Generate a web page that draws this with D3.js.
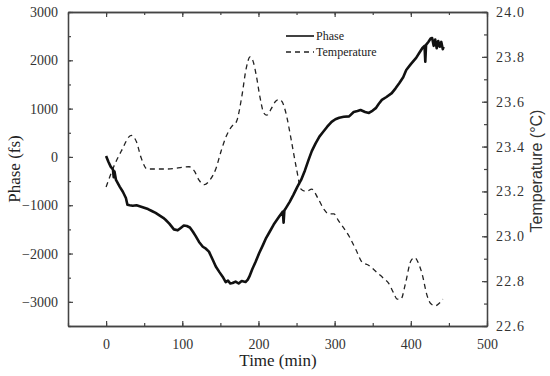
<!DOCTYPE html>
<html><head><meta charset="utf-8">
<script src="https://cdn.jsdelivr.net/npm/d3@7"></script>
<style>body{margin:0;background:#fff}svg{display:block}</style>
</head><body>
<svg id="c" width="550" height="376"></svg>
<script>
const phaseTime = [0,3,6,9,10,11,13,18,22,26,28,31,35,40,44,48,55,60,65,70,75,78,83,89,94,98,102,106,110,114,118,122,127,131,135,140,144,149,153,157,160,163,166,170,174,178,183,186,188,192,196,201,206,210,214,220,227,232,233,234,236,241,246,251,256,261,266,270,275,280,284,290,296,301,306,312,319,325,330,334,340,345,350,354,358,362,368,375,380,385,390,394,400,407,411,415,418,419,420,423,426,428,430,432,434,436,438,440,442,443];
const phaseValue = [20,-100,-200,-260,-420,-300,-476,-620,-720,-850,-990,-1000,-1010,-1000,-1020,-1040,-1080,-1120,-1160,-1210,-1260,-1300,-1380,-1500,-1520,-1470,-1420,-1430,-1460,-1550,-1650,-1760,-1860,-1900,-1960,-2130,-2270,-2390,-2480,-2590,-2560,-2620,-2610,-2580,-2620,-2570,-2590,-2540,-2480,-2320,-2180,-1990,-1820,-1680,-1570,-1400,-1240,-1130,-1360,-1110,-1060,-930,-780,-620,-476,-280,-50,120,280,420,500,620,725,780,810,830,840,930,950,970,930,910,960,1010,1100,1180,1240,1320,1420,1530,1650,1800,1920,2050,2150,2250,2300,1970,2320,2380,2450,2460,2300,2430,2250,2400,2280,2380,2230,2280];

const tempTime = [0,10,20,33,40,46,54,80,109,116,122,129,136,144,151,157,165,171,178,184,189,193,197,202,207,211,217,222,227,231,236,243,250,256,263,270,278,286,292,299,305,319,328,336,345,355,365,371,377,382,387,393,400,405,410,415,421,426,432,437,442];
const tempValue = [23.22,23.31,23.38,23.45,23.42,23.35,23.30,23.30,23.31,23.29,23.25,23.23,23.25,23.30,23.38,23.44,23.49,23.51,23.62,23.75,23.80,23.78,23.72,23.62,23.55,23.54,23.57,23.60,23.61,23.60,23.55,23.43,23.30,23.21,23.20,23.21,23.17,23.12,23.10,23.10,23.07,23.00,22.94,22.885,22.87,22.84,22.81,22.79,22.75,22.72,22.72,22.79,22.89,22.905,22.88,22.83,22.74,22.70,22.69,22.70,22.72];

const xTicks = [0,100,200,300,400,500];
const yTicks = [-3000,-2000,-1000,0,1000,2000,3000];
const y2Ticks = [22.6,22.8,23.0,23.2,23.4,23.6,23.8,24.0];
const legendLabels = ["Phase","Temperature"];

const svg = d3.select("#c");
const L=68, R=487, T=12, B=326;
const x = d3.scaleLinear().domain([-50,500]).range([L,R]);
const y = d3.scaleLinear().domain([-3500,3000]).range([B,T]);
const y2 = d3.scaleLinear().domain([22.6,24.0]).range([B,T]);
const axisColor="#444";
const serif="'Liberation Serif','Times New Roman',serif";

function styleAxis(g){
  g.select(".domain").attr("stroke",axisColor).attr("stroke-width",1.3);
  g.selectAll(".tick line").attr("stroke",axisColor).attr("stroke-width",1.2);
  g.selectAll(".tick text").attr("fill","#333").attr("font-family",serif).attr("font-size",14);
}
const xMinor = d3.range(-50,501,50);
// bottom
svg.append("g").attr("transform",`translate(0,${B})`)
  .call(d3.axisBottom(x).tickValues(xMinor).tickSize(-3).tickFormat("").tickSizeOuter(0)).call(styleAxis);
svg.append("g").attr("transform",`translate(0,${B})`)
  .call(d3.axisBottom(x).tickValues(xTicks).tickSize(-5).tickPadding(13).tickSizeOuter(0)).call(styleAxis);
// top
svg.append("g").attr("transform",`translate(0,${T})`)
  .call(d3.axisTop(x).tickValues(xMinor).tickSize(-3).tickFormat("").tickSizeOuter(0)).call(styleAxis);
svg.append("g").attr("transform",`translate(0,${T})`)
  .call(d3.axisTop(x).tickValues(xTicks).tickSize(-5).tickFormat("").tickSizeOuter(0)).call(styleAxis);
// left
svg.append("g").attr("transform",`translate(${L},0)`)
  .call(d3.axisLeft(y).tickValues(d3.range(-3500,3001,500)).tickSize(-3).tickFormat("").tickSizeOuter(0)).call(styleAxis);
svg.append("g").attr("transform",`translate(${L},0)`)
  .call(d3.axisLeft(y).tickValues(yTicks).tickSize(-5).tickPadding(10).tickFormat(d3.format("d")).tickSizeOuter(0)).call(styleAxis);
// right
svg.append("g").attr("transform",`translate(${R},0)`)
  .call(d3.axisRight(y2).tickValues(d3.range(0,15).map(i=>22.6+i*0.1)).tickSize(-3).tickFormat("").tickSizeOuter(0)).call(styleAxis);
const gR = svg.append("g").attr("transform",`translate(${R},0)`)
  .call(d3.axisRight(y2).tickValues(y2Ticks).tickSize(-5).tickPadding(9).tickFormat(d3.format(".1f")).tickSizeOuter(0)).call(styleAxis);
gR.selectAll(".tick text").attr("letter-spacing",1.2);

// titles
svg.append("text").attr("x",278).attr("y",366).attr("text-anchor","middle")
  .attr("font-family",serif).attr("font-size",17).attr("fill","#222").text("Time (min)");
svg.append("text").attr("transform","translate(20,169) rotate(-90)").attr("text-anchor","middle")
  .attr("font-family",serif).attr("font-size",17).attr("fill","#222").text("Phase (fs)");
svg.append("text").attr("transform","translate(542,171) rotate(-90)").attr("text-anchor","middle")
  .attr("font-family","'Liberation Sans',Arial,sans-serif").attr("font-size",16).attr("fill","#333").text("Temperature (°C)");

// data lines
const phaseData = phaseTime.map((t,i)=>({t,v:phaseValue[i]}));
const tempData = tempTime.map((t,i)=>({t,v:tempValue[i]}));
svg.append("path").datum(tempData)
  .attr("d",d3.line().x(d=>x(d.t)).y(d=>y2(d.v)).curve(d3.curveMonotoneX))
  .attr("fill","none").attr("stroke","#222").attr("stroke-width",1.3).attr("stroke-dasharray","5,4");
svg.append("path").datum(phaseData)
  .attr("d",d3.line().x(d=>x(d.t)).y(d=>y(d.v)))
  .attr("fill","none").attr("stroke","#111").attr("stroke-width",2.6).attr("stroke-linejoin","round");

// legend
const lg = svg.append("g");
lg.append("line").attr("x1",286).attr("x2",314).attr("y1",36).attr("y2",36).attr("stroke","#111").attr("stroke-width",1.6);
lg.append("line").attr("x1",286).attr("x2",314).attr("y1",52).attr("y2",52).attr("stroke","#222").attr("stroke-width",1.3).attr("stroke-dasharray","5,4");
lg.selectAll("text.lab").data(legendLabels).enter().append("text")
  .attr("x",316).attr("y",(d,i)=>40+i*16).attr("font-family",serif).attr("font-size",12).attr("fill","#222").text(d=>d);
</script>
</body></html>
